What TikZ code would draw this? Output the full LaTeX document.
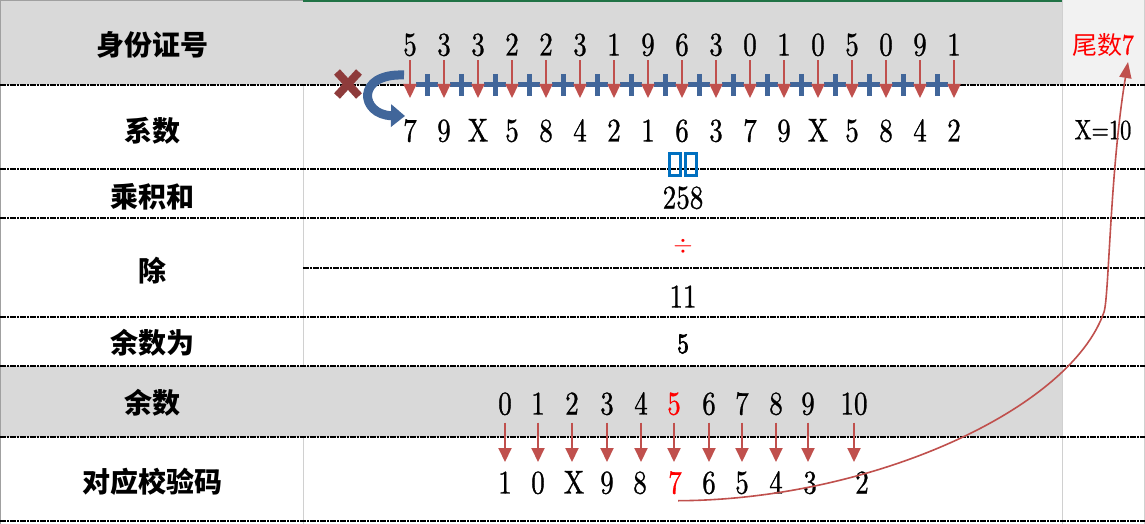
\documentclass[tikz,border=0pt]{standalone}
\usepackage{fontspec}
\usepackage{graphicx}
\newfontfamily\cjk{Noto Sans CJK SC}
\newfontfamily\digfont{lmroman10-regular.otf}[FakeBold=1.0]
\newfontfamily\digbold{lmroman10-regular.otf}[FakeBold=3.0]
\usetikzlibrary{arrows.meta}
\definecolor{graybg}{HTML}{D9D9D9}
\definecolor{lightbg}{HTML}{F2F2F2}
\definecolor{vline}{HTML}{D0D0D0}
\definecolor{bordergray}{HTML}{A0A0A0}
\definecolor{arrred}{HTML}{C0504D}
\definecolor{pblue}{HTML}{41669A}
\definecolor{xred}{HTML}{8E3B3B}
\definecolor{boxblue}{HTML}{0070C0}
\definecolor{tred}{HTML}{FF0000}
\definecolor{xlgreen}{HTML}{217346}
\newcommand\nardig[1]{\scalebox{0.82}[1]{#1}}
\begin{document}
\begin{tikzpicture}[x=1pt,y=-1pt,
  dig/.style={font=\digfont\fontsize{33}{33}\selectfont, inner sep=0pt, text height=21pt, text depth=0pt},
  lab/.style={font=\cjk\bfseries\fontsize{28}{28}\selectfont, inner sep=0pt},
  gridline/.style={line width=1.6pt, dash pattern=on 6pt off 1pt on 2pt off 1pt},
  redarr/.style={draw=arrred, line width=2pt, -{Triangle[length=14pt,width=13pt]}},
  plusline/.style={draw=pblue, line width=5pt},
  curvered/.style={draw=arrred, line width=1.6pt, -{Triangle[length=16pt,width=12pt]}}
  ]
\useasboundingbox (0,0) rectangle (1145,524);
% backgrounds
\fill[white] (0,0) rectangle (1145,524);
\fill[graybg] (0,0) rectangle (1062,85);
\fill[lightbg] (1062,0) rectangle (1145,85);
\fill[graybg] (0,366) rectangle (1062,437);
% vertical lines
\draw[vline, line width=1pt] (303,85) -- (303,366) (303,437) -- (303,524);
\draw[vline, line width=1pt] (1062,0) -- (1062,524);
\draw[vline, line width=1pt] (1144.5,0) -- (1144.5,524);
\draw[bordergray, line width=1pt] (0.5,524) -- (0.5,0.5) -- (303,0.5);
\draw[xlgreen, line width=2pt] (303,1) -- (1062,1);
% dashed grid lines
\foreach \yy in {85,169,218,317,366,437,521} {\draw[gridline] (0,\yy) -- (1145,\yy);}
\draw[gridline] (303,268) -- (1145,268);
% left labels
\node[lab] (l1) at (152,45) {身份证号};
\node[lab] (l2) at (152,131) {系数};
\node[lab] (l3) at (152,197) {乘积和};
\node[lab] (l4) at (152,271) {除};
\node[lab] (l5) at (152,343) {余数为};
\node[lab] (l6) at (152,403) {余数};
\node[lab] (l7) at (152,482) {对应校验码};
% ID digits and coefficients
\foreach \v [count=\i from 0] in {5,3,3,2,2,3,1,9,6,3,0,1,0,5,0,9,1} {
  \node[dig] (t\i) at ({410+34*\i},45) {\nardig{\v}};
}
\foreach \v [count=\i from 0] in {7,9,X,5,8,4,2,1,6,3,7,9,X,5,8,4,2} {
  \node[dig] (c\i) at ({410+34*\i},131) {\nardig{\v}};
}
% plus signs
\foreach \i in {0,...,15} {
  \draw[plusline] ({427+34*\i-11},85) -- ++(22,0) ({427+34*\i},74) -- ++(0,22);
}
% red arrows
\foreach \i in {0,...,16} {
  \coordinate (ta\i) at ({410+34*\i},98);
  \draw[redarr, shorten <=4.5pt] (t\i.south) -- (ta\i);
}
% cross and curved arrow
\draw[xred, line width=8pt] (337,72) -- (359,96) (337,96) -- (359,72);
\draw[pblue, line width=9pt, -{Triangle[length=14pt,width=22pt]}] (404,75) .. controls (355,73) and (360,115) .. (405,116);
% blue boxes
\draw[boxblue, line width=3pt] (669.5,153.5) rectangle (680.5,175.5) (685.5,153.5) rectangle (696.5,175.5);
% middle values
\node[dig] (sum) at (683,198) {\nardig{258}};
\node[inner sep=0pt, text=tred, font=\fontsize{31}{31}\selectfont] (div) at (683,246) {$\div$};
\node[dig] (eleven) at (683,297) {\nardig{11}};
\node[inner sep=0pt, font=\digbold\fontsize{28}{28}\selectfont] (rem) at (683,344) {\nardig{5}};
% right column
\node[inner sep=0pt, text=tred, font=\cjk\fontsize{25}{25}\selectfont] (tail) at (1103,45) {尾数{\digfont\fontsize{29}{29}\selectfont\nardig{7}}};
\node[inner sep=0pt, font=\digfont\fontsize{28}{28}\selectfont] (xeq) at (1103,130) {\scalebox{0.8}[1]{X=10}};
% remainder table
\def\rx{{505,538,572,607,641,674,709,742,776,808,854}}
\foreach \v [count=\i from 0] in {0,1,2,3,4,5,6,7,8,9,10} {
  \pgfmathsetmacro\xx{\rx[\i]}
  \ifnum\i=5
    \node[dig, text=tred] (r\i) at (\xx,404) {\nardig{\v}};
  \else
    \node[dig] (r\i) at (\xx,404) {\nardig{\v}};
  \fi
  \coordinate (ra\i) at (\xx,462);
  \draw[redarr, shorten <=8pt] (r\i.south) -- (ra\i);
}
\def\vx{{505,538,574,607,640,675,709,742,776,810,862}}
\foreach \v [count=\i from 0] in {1,0,X,9,8,7,6,5,4,3,2} {
  \pgfmathsetmacro\xx{\vx[\i]}
  \ifnum\i=5
    \node[dig, text=tred] (v\i) at (\xx,483) {\nardig{\v}};
  \else
    \node[dig] (v\i) at (\xx,483) {\nardig{\v}};
  \fi
}
% red curve
\coordinate (ctip) at (1128,62);
\draw[curvered] ([shift={(3,7)}]v5.south) .. controls (870,500) and (1070,410) .. (1104,312) .. controls (1109,297) and (1110,170) .. (ctip);
\end{tikzpicture}
\end{document}
